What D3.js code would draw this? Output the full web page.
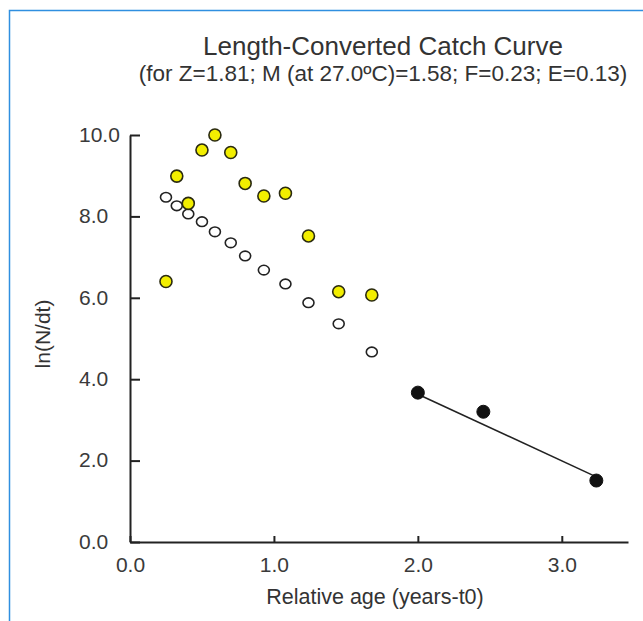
<!DOCTYPE html>
<html>
<head>
<meta charset="utf-8">
<script src="https://cdn.jsdelivr.net/npm/d3@7"></script>
<style>
	body { margin: 0; background: #fff; }
	svg text { font-family: "Liberation Sans", Arial, sans-serif; fill: #333; }
</style>
</head>
<body>
<div id="chart"></div>
<script>

///////////////////////////////////////////////////////////////////////////
///////////////////////////////// Data ////////////////////////////////////
///////////////////////////////////////////////////////////////////////////

//Relative age of each length class (years-t0)
var ages = [0.25, 0.325, 0.405, 0.50, 0.59, 0.70, 0.80, 0.93, 1.08, 1.24, 1.45, 1.68];
//Points not used in the regression (yellow)
var yellowValues = [6.40, 8.99, 8.32, 9.63, 10.0, 9.57, 8.81, 8.50, 8.57, 7.52, 6.15, 6.07];
//Expected points (open)
var openValues = [8.47, 8.26, 8.06, 7.87, 7.62, 7.35, 7.03, 6.68, 6.34, 5.88, 5.36, 4.67];
//Points used in the regression (black)
var fitAges = [2.0, 2.455, 3.24];
var fitValues = [3.67, 3.20, 1.51];
//End points of the regression line
var lineAges = [2.0, 3.24];
var lineValues = [3.63, 1.60];

var xTicks = [0, 1, 2, 3];
var yTicks = [0, 2, 4, 6, 8, 10];

var title = "Length-Converted Catch Curve";
var subtitle = "(for Z=1.81; M (at 27.0ºC)=1.58; F=0.23; E=0.13)";

///////////////////////////////////////////////////////////////////////////
//////////////////// Set up and initiate svg containers ///////////////////
///////////////////////////////////////////////////////////////////////////

var width = 643,
	height = 621;

var svg = d3.select("#chart")
	.append("svg")
	.attr("width", width)
	.attr("height", height);

//Blue frame on the top and left
svg.append("path")
	.attr("d", "M9.5," + height + "V10.5H" + width)
	.style("fill", "none")
	.style("stroke", "#2f8fe0")
	.style("stroke-width", 1.5);

var x = d3.scaleLinear()
	.domain([0, 3.46])
	.range([130, 628]);

var y = d3.scaleLinear()
	.domain([0, 10])
	.range([542, 135]);

///////////////////////////////////////////////////////////////////////////
/////////////////////////////// Axes //////////////////////////////////////
///////////////////////////////////////////////////////////////////////////

var xAxis = svg.append("g")
	.attr("transform", "translate(0," + y(0) + ")")
	.call(d3.axisBottom(x).tickValues(xTicks).tickSizeInner(-6).tickSizeOuter(0).tickPadding(14).tickFormat(d3.format(".1f")));

var yAxis = svg.append("g")
	.attr("transform", "translate(" + x(0) + ",0)")
	.call(d3.axisLeft(y).tickValues(yTicks).tickSizeInner(-10).tickSizeOuter(0).tickFormat(d3.format(".1f")));

[xAxis, yAxis].forEach(function(ax) {
	ax.select(".domain").style("stroke", "#222").style("stroke-width", 2);
	ax.selectAll(".tick line").style("stroke", "#222").style("stroke-width", 2);
	ax.selectAll(".tick text").style("font-size", "21px").style("fill", "#3a3a3a");
});

//y labels sit left-aligned
yAxis.selectAll(".tick text")
	.attr("text-anchor", "start")
	.attr("x", 79 - x(0))
	.attr("dy", "0.3em");

//x label at 0.0 slightly left
xAxis.selectAll(".tick text").attr("dy", "0.75em");

svg.append("text")
	.attr("x", 375)
	.attr("y", 604)
	.attr("text-anchor", "middle")
	.style("font-size", "21.5px")
	.text("Relative age (years-t0)");

svg.append("text")
	.attr("transform", "translate(50,334) rotate(-90)")
	.attr("text-anchor", "middle")
	.style("font-size", "21px")
	.text("ln(N/dt)");

///////////////////////////////////////////////////////////////////////////
/////////////////////////////// Titles ////////////////////////////////////
///////////////////////////////////////////////////////////////////////////

svg.append("text")
	.attr("x", 383)
	.attr("y", 55)
	.attr("text-anchor", "middle")
	.style("font-size", "26px")
	.text(title);

svg.append("text")
	.attr("x", 383)
	.attr("y", 81)
	.attr("text-anchor", "middle")
	.style("font-size", "22.5px")
	.text(subtitle);

///////////////////////////////////////////////////////////////////////////
/////////////////////////////// Points ////////////////////////////////////
///////////////////////////////////////////////////////////////////////////

//Regression line
svg.append("line")
	.attr("x1", x(lineAges[0])).attr("y1", y(lineValues[0]))
	.attr("x2", x(lineAges[1])).attr("y2", y(lineValues[1]))
	.style("stroke", "#222")
	.style("stroke-width", 1.6);

svg.selectAll(".open-point")
	.data(openValues)
	.enter().append("ellipse")
	.attr("class", "open-point")
	.attr("cx", function(d, i) { return x(ages[i]); })
	.attr("cy", function(d) { return y(d); })
	.attr("rx", 5.5)
	.attr("ry", 4.8)
	.style("fill", "#fff")
	.style("stroke", "#222")
	.style("stroke-width", 1.6);

svg.selectAll(".yellow-point")
	.data(yellowValues)
	.enter().append("circle")
	.attr("class", "yellow-point")
	.attr("cx", function(d, i) { return x(ages[i]); })
	.attr("cy", function(d) { return y(d); })
	.attr("r", 6)
	.style("fill", "#f2ee00")
	.style("stroke", "#2a2a10")
	.style("stroke-width", 1.6);

svg.selectAll(".fit-point")
	.data(fitValues)
	.enter().append("circle")
	.attr("class", "fit-point")
	.attr("cx", function(d, i) { return x(fitAges[i]); })
	.attr("cy", function(d) { return y(d); })
	.attr("r", 6.5)
	.style("fill", "#111")
	.style("stroke", "#111");

</script>
</body>
</html>
